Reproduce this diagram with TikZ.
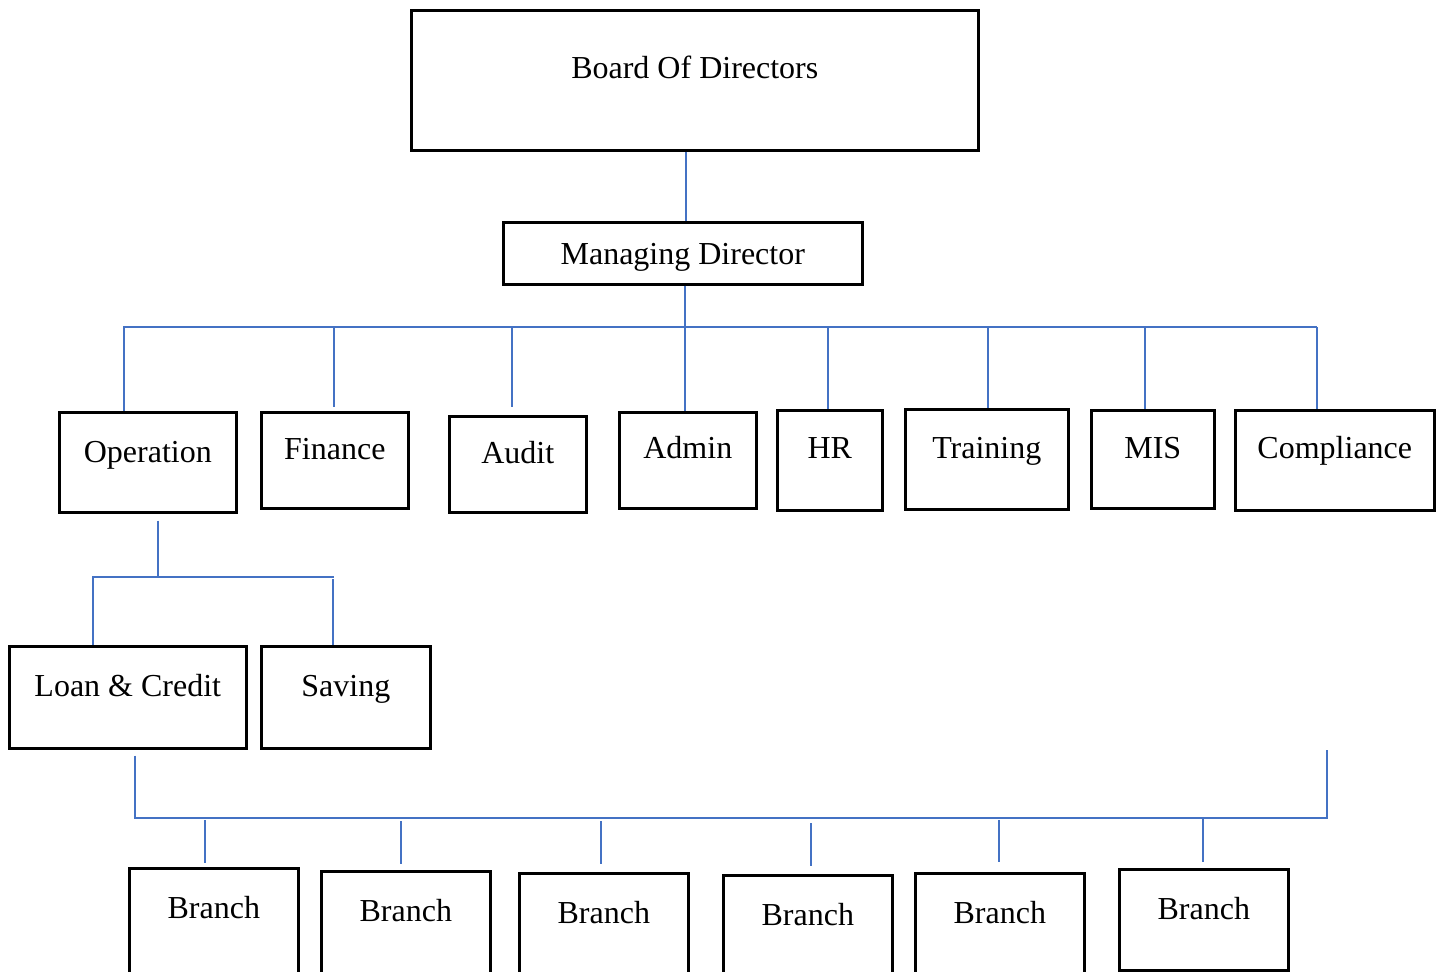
\documentclass[tikz,border=0pt]{standalone}
\usepackage{fontspec}
\setmainfont{Liberation Serif}
\definecolor{linkblue}{RGB}{68,114,196}
\begin{document}
\begin{tikzpicture}[x=0.5pt,y=-0.5pt,
  unitbox/.style={draw, line width=1.3pt, inner sep=0pt, anchor=north west,
    font=\fontsize{16}{19}\selectfont},
  dims/.style n args={3}{minimum width=#1*0.5pt, text height=#2*0.5pt, text depth=#3*0.5pt},
  link/.style={draw=linkblue, line width=0.7pt}]
\useasboundingbox (0,0) rectangle (1442,971);
\clip (0,0) rectangle (1442,971);

% top of the hierarchy
\node[unitbox, dims={567}{68}{72}] (board) at (410,9) {Board Of Directors};
\node[unitbox, dims={359}{42}{20}] (md) at (502,221) {Managing Director};

% departments
\node[unitbox, dims={177}{50}{50}] (op)    at (58,411)   {Operation};
\node[unitbox, dims={147}{47}{49}] (fin)   at (260,411)  {Finance};
\node[unitbox, dims={137}{47}{49}] (aud)   at (448,415)  {Audit};
\node[unitbox, dims={137}{46}{50}] (adm)   at (618,411)  {Admin};
\node[unitbox, dims={105}{48}{52}] (hr)    at (776,409)  {HR};
\node[unitbox, dims={163}{49}{51}] (trn)   at (904,408)  {Training};
\node[unitbox, dims={123}{48}{50}] (mis)   at (1090,409) {MIS};
\node[unitbox, dims={199}{48}{52}] (comp)  at (1234,409) {Compliance};

% operation units
\node[unitbox, dims={237}{50}{52}] (loan)  at (8,645)    {Loan \& Credit};
\node[unitbox, dims={169}{50}{52}] (save)  at (260,645)  {Saving};

% branches
\node[unitbox, dims={169}{50}{60}] (br1) at (128,867)  {Branch};
\node[unitbox, dims={169}{50}{60}] (br2) at (320,870)  {Branch};
\node[unitbox, dims={169}{50}{60}] (br3) at (518,872)  {Branch};
\node[unitbox, dims={169}{50}{60}] (br4) at (722,874)  {Branch};
\node[unitbox, dims={169}{50}{60}] (br5) at (914,872)  {Branch};
\node[unitbox, dims={169}{50}{51}] (br6) at (1118,868) {Branch};

% board to managing director
\coordinate (spine) at (686,200);
\draw[link] (spine |- board.south) -- (spine |- md.north);

% department bus
\coordinate (mdbus) at (685,327);
\coordinate (busL) at (123,327);
\coordinate (busR) at (1317,327);
\draw[link] (md.south -| mdbus) -- (mdbus);
\draw[link] (busL) -- (busR);
\coordinate (d1) at (124,327);
\coordinate (d2) at (334,327);
\coordinate (d3) at (512,327);
\coordinate (d4) at (685,327);
\coordinate (d5) at (828,327);
\coordinate (d6) at (988,327);
\coordinate (d7) at (1145,327);
\coordinate (d8) at (1317,327);
\draw[link] (d1) -- (d1 |- op.north);
\draw[link, shorten >=2pt] (d2) -- (d2 |- fin.north);
\draw[link, shorten >=4pt] (d3) -- (d3 |- aud.north);
\draw[link] (d4) -- (d4 |- adm.north);
\draw[link] (d5) -- (d5 |- hr.north);
\draw[link] (d6) -- (d6 |- trn.north);
\draw[link] (d7) -- (d7 |- mis.north);
\draw[link] (d8) -- (d8 |- comp.north);

% operation sub bus
\coordinate (ob) at (158,577);
\coordinate (obL) at (92,577);
\coordinate (obR) at (334,577);
\draw[link, shorten <=3.5pt] (ob |- op.south) -- (ob);
\draw[link] (obL) -- (obR);
\coordinate (o1) at (93,577);
\coordinate (o2) at (333,579);
\draw[link] (o1) -- (o1 |- loan.north);
\draw[link] (o2) -- (o2 |- save.north);

% branch bus
\coordinate (bl) at (135,818);
\coordinate (br) at (1327,818);
\coordinate (brtop) at (1327,750);
\draw[link, shorten <=3pt] (bl |- loan.south) -- (bl) -- (br) -- (brtop);
\coordinate (b1) at (205,820);
\coordinate (b2) at (401,821);
\coordinate (b3) at (601,821);
\coordinate (b4) at (811,823);
\coordinate (b5) at (999,820);
\coordinate (b6) at (1203,818);
\draw[link, shorten >=2pt] (b1) -- (b1 |- br1.north);
\draw[link, shorten >=3pt] (b2) -- (b2 |- br2.north);
\draw[link, shorten >=4pt] (b3) -- (b3 |- br3.north);
\draw[link, shorten >=4pt] (b4) -- (b4 |- br4.north);
\draw[link, shorten >=5pt] (b5) -- (b5 |- br5.north);
\draw[link, shorten >=3pt] (b6) -- (b6 |- br6.north);
\end{tikzpicture}
\end{document}
